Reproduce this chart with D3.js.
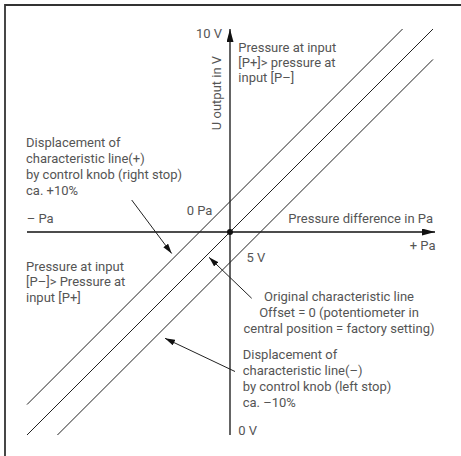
<!DOCTYPE html>
<html>
<head>
<meta charset="utf-8">
<script src="https://cdn.jsdelivr.net/npm/d3@7"></script>
<style>
  body { margin: 0; background: #fff; }
  svg text { font-family: Roboto, "Open Sans", sans-serif; font-size: 13px; fill: #555; }
</style>
</head>
<body>
<div id="chart"></div>
<script>
// characteristic lines of the pressure transducer, x = pressure (-1..+1), y = output in V
const xDomain = [-1, 1];
const yDomain = [0, 10];
const upperLine = [[-1, 0.75], [0.85, 10]];      // displacement (+)
const originalLine = [[-1, 0], [1, 10]];         // offset = 0
const lowerLine = [[-0.85, 0], [1, 9.25]];       // displacement (-)
const axisLabels = { top: "10 V", mid: "5 V", bottom: "0 V", zero: "0 Pa", minus: "\u2013 Pa", plus: "+ Pa" };
const yTitle = "U output in V";
const xTitle = "Pressure difference in Pa";

const width = 461, height = 456;

const svg = d3.select("#chart").append("svg")
    .attr("width", width)
    .attr("height", height);

// frame (only top and left edges visible)
svg.append("path")
    .attr("d", "M5," + height + "V5H" + width)
    .attr("fill", "none")
    .attr("stroke", "#333")
    .attr("stroke-width", 1.8);

let x = d3.scaleLinear().domain(xDomain).range([27, 433]);
let y = d3.scaleLinear().domain(yDomain).range([435, 29]);

let line = d3.line()
    .x(function(d) { return x(d[0]); })
    .y(function(d) { return y(d[1]); });

let defs = svg.append("defs");
defs.append("marker")
    .attr("id", "head")
    .attr("viewBox", "0 0 10 6")
    .attr("refX", 10).attr("refY", 3)
    .attr("markerWidth", 10).attr("markerHeight", 6)
    .attr("markerUnits", "userSpaceOnUse")
    .attr("orient", "auto")
  .append("path")
    .attr("d", "M0,0L10,3L0,6Z")
    .attr("fill", "#111");
defs.append("marker")
    .attr("id", "axishead")
    .attr("viewBox", "0 0 13 7")
    .attr("refX", 13).attr("refY", 3.5)
    .attr("markerWidth", 13).attr("markerHeight", 7)
    .attr("markerUnits", "userSpaceOnUse")
    .attr("orient", "auto")
  .append("path")
    .attr("d", "M0,0L13,3.5L0,7Z")
    .attr("fill", "#111");

// axes
svg.append("line")
    .attr("x1", x(0)).attr("y1", y(yDomain[0]))
    .attr("x2", x(0)).attr("y2", y(yDomain[1]))
    .attr("stroke", "#111").attr("stroke-width", 1.3)
    .attr("marker-end", "url(#axishead)");
svg.append("line")
    .attr("x1", x(xDomain[0])).attr("y1", y(5))
    .attr("x2", x(xDomain[1]) + 2).attr("y2", y(5))
    .attr("stroke", "#111").attr("stroke-width", 1.3)
    .attr("marker-end", "url(#axishead)");

// characteristic lines
[upperLine, originalLine, lowerLine].forEach(function(d) {
  svg.append("path")
      .datum(d)
      .attr("d", line)
      .attr("fill", "none")
      .attr("stroke", "#222")
      .attr("stroke-width", 1);
});

svg.append("circle")
    .attr("cx", x(0)).attr("cy", y(5))
    .attr("r", 3)
    .attr("fill", "#111");

// pointers
let pointers = [
  [[131.7, 200], [171.7, 253.5]],
  [[251.7, 298.3], [209, 257.3]],
  [[235, 371.5], [165, 338.3]]
];
pointers.forEach(function(p) {
  svg.append("line")
      .attr("x1", p[0][0]).attr("y1", p[0][1])
      .attr("x2", p[1][0]).attr("y2", p[1][1])
      .attr("stroke", "#222").attr("stroke-width", 1)
      .attr("marker-end", "url(#head)");
});

function block(lines, px, py, anchor, lh) {
  let t = svg.append("text")
      .attr("x", px).attr("y", py)
      .attr("text-anchor", anchor || "start");
  lines.forEach(function(s, i) {
    t.append("tspan").attr("x", px).attr("y", py + i * (lh || 16)).text(s);
  });
}

block([axisLabels.top], 222, 38, "end");
block([axisLabels.mid], 246.5, 261.7);
block([axisLabels.bottom], 238.3, 435);
block([axisLabels.zero], 186.7, 215);
block([axisLabels.minus], 26.7, 223.3);
block([axisLabels.plus], 435.5, 250, "end");
block([xTitle], 288.3, 223.3);

svg.append("text")
    .attr("transform", "translate(221," + 93 + ") rotate(-90)")
    .attr("text-anchor", "middle")
    .text(yTitle);

block(["Pressure at input", "[P+]> pressure at", "input [P\u2013]"], 238.3, 51.7, "start", 15);
block(["Displacement of", "characteristic line(+)", "by control knob (right stop)", "ca. +10%"], 26, 146.7);
block(["Pressure at input", "[P\u2013]> Pressure at", "input [P+]"], 26, 271, "start", 15.4);
block(["Original characteristic line", "Offset = 0 (potentiometer in", "central position = factory setting)"], 339, 301, "middle");
block(["Displacement of", "characteristic line(\u2013)", "by control knob (left stop)", "ca. \u201310%"], 242.7, 359.3, "start", 15.8);
</script>
</body>
</html>
